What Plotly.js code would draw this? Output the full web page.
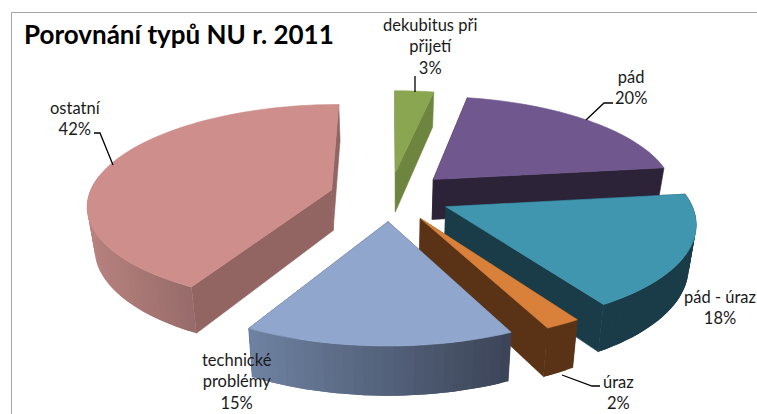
<!DOCTYPE html>
<html><head><meta charset="utf-8">
<script src="https://cdn.plot.ly/plotly-3.0.1.min.js"></script>
<style>html,body{margin:0;padding:0;background:#fff;overflow:hidden}</style></head>
<body><div id="c" style="width:757px;height:414px"></div>
<script>
// Data
const categories = ["dekubitus při<br>přijetí", "pád", "pád - úraz", "úraz", "technické<br>problémy", "ostatní"];
const shares = [3, 20, 18, 2, 15, 42];
const titleText = "Porovnání typů NU r. 2011";
const topColors = ["#8AA650", "#70588F", "#3F96AE", "#D9813A", "#91A6CD", "#CD8E8C"];
const radialColors = ["#6E853F", "#2D2339", "#1A3C48", "#5A3317", "#3C4558", "#926462"];
const wallLeft = ["#6E853F", "#2D2339", "#1A3C48", "#5A3317", "#6F83A3", "#B8827F"];
const wallRight = ["#6E853F", "#2D2339", "#1A3C48", "#5A3317", "#3C4558", "#986C6A"];
const drawOrder = [5, 0, 1, 2, 3, 4];
const labelX = [430, 631, 720, 618, 237, 75];
const labelY = [46, 87, 307, 392, 381, 118];
const leaders = [
  [[415, 76], [415, 92]],
  [[613, 103], [604, 103], [586, 120]],
  [],
  [[600, 386], [592, 386], [562, 375]],
  [],
  [[94, 133], [100, 133], [113, 165]]
];

// Projection of the exploded pie
const CX = 390, CY = 196, RX = 243, RY = 99, PERSP = 0.14, EXPLODE = 0.25, DEPTH = 41, SHRINK = 0.975;
function project(u, v, low) {
  const s = 1 / (1 + PERSP * v);
  let x = CX + RX * u * s, y = CY - RY * v * s;
  if (low) { x = CX + (x - CX) * SHRINK; y += DEPTH * s; }
  return [x, y];
}
function hex(c){return [1,3,5].map(i=>parseInt(c.substr(i,2),16));}
function mix(a,b,t){const A=hex(a),B=hex(b);return `rgb(${A.map((v,i)=>Math.round(v+(B[i]-v)*t)).join(",")})`;}
const total = shares.reduce((a,b)=>a+b,0);
const traces = [];
function poly(pts, color, w) {
  traces.push({type:"scatter", mode:"lines", x:pts.map(p=>p[0]).concat(pts[0][0]), y:pts.map(p=>p[1]).concat(pts[0][1]),
    fill:"toself", fillcolor:color, line:{color:color, width:w===undefined?0.6:w, simplify:false}, hoverinfo:"skip", showlegend:false});
}
let acc = 0;
const slices = shares.map(v => { const a0 = acc/total*2*Math.PI; acc += v; return {a0, a1: acc/total*2*Math.PI}; });
drawOrder.forEach(i => {
  const {a0,a1} = slices[i], bis=(a0+a1)/2;
  const ou = EXPLODE*Math.sin(bis), ov = EXPLODE*Math.cos(bis);
  const n = Math.max(3, Math.round((a1-a0)/(Math.PI/90)));
  const rim = []; for (let k=0;k<=n;k++){const a=a0+(a1-a0)*k/n; rim.push([ou+Math.sin(a), ov+Math.cos(a)]);}
  // radial faces
  [rim[0], rim[n]].forEach(p => {
    poly([project(ou,ov,false),project(p[0],p[1],false),project(p[0],p[1],true),project(ou,ov,true)], radialColors[i]);
  });
  // outer wall: shaded by horizontal position, each band slightly overlapping the next one
  const front = []; for (let k=0;k<=n;k++){ if (Math.cos(a0+(a1-a0)*k/n) < 0.15) front.push(k); }
  if (front.length > 1) {
    const xs = front.map(k=>project(rim[k][0],rim[k][1])[0]);
    const xmin = Math.min(...xs), xmax = Math.max(...xs);
    for (let j=0;j<front.length-1;j++){
      const band = front.slice(j, j+3);
      const upper = band.map(k=>project(rim[k][0],rim[k][1],false));
      const lower = band.map(k=>project(rim[k][0],rim[k][1],true)).reverse();
      poly(upper.concat(lower), mix(wallLeft[i],wallRight[i],(upper[0][0]-xmin)/(xmax-xmin)), 0);
    }
  }
  // top
  poly([project(ou,ov,false)].concat(rim.map(p=>project(p[0],p[1],false))), topColors[i]);
});
leaders.forEach(L => { if (L.length) traces.push({type:"scatter",mode:"lines",x:L.map(p=>p[0]),y:L.map(p=>p[1]),
  line:{color:"#000",width:1.3},hoverinfo:"skip",showlegend:false}); });

const annotations = categories.map((c,i)=>({x:labelX[i],y:labelY[i],xref:"x",yref:"y",text:c+"<br>"+shares[i]+"%",showarrow:false,
  font:{family:"Lato, sans-serif",size:16.5,color:"#1a1a1a"},align:"center",xanchor:"center",yanchor:"middle"}));

const layout = {
  width:757,height:414,margin:{l:0,r:0,t:0,b:0},paper_bgcolor:"#fff",plot_bgcolor:"#fff",showlegend:false,
  xaxis:{range:[0,757],visible:false,fixedrange:true},
  yaxis:{range:[414,0],visible:false,fixedrange:true},
  title:{text:"<b>"+titleText+"</b>",font:{family:"Lato, sans-serif",size:26,color:"#000"},x:24/757,xanchor:"left",y:1-35/414,yanchor:"middle"},
  annotations,
  shapes:[{type:"line",xref:"x",yref:"y",x0:11.5,x1:757,y0:12.5,y1:12.5,line:{color:"#A6A6A6",width:1}},
          {type:"line",xref:"x",yref:"y",x0:11.5,x1:11.5,y0:12.5,y1:414,line:{color:"#A6A6A6",width:1}}]
};
Plotly.newPlot("c",traces,layout,{displayModeBar:false,staticPlot:true});
</script></body></html>
